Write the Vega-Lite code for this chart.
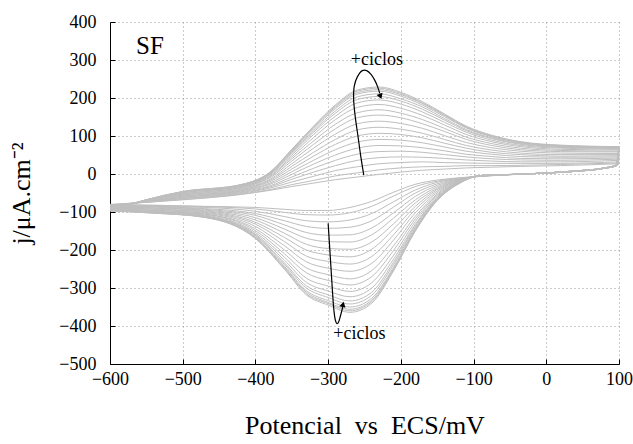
{
"$schema": "https://vega.github.io/schema/vega-lite/v6.json",
"width": 509, "height": 342,
"autosize": "none",
"padding": {"left": 110, "top": 22, "right": 14, "bottom": 80},
"config": {
 "view": {"stroke": null},
 "font": "Liberation Serif",
 "axis": {"domainColor": "#000", "domainWidth": 1, "tickColor": "#000", "tickSize": -5, "labelFontSize": 18, "labelColor": "#000", "labelFont": "Liberation Serif", "labelFlush": false, "labelOverlap": false, "gridColor": "#999", "gridDash": [1, 3], "gridOpacity": 1, "gridWidth": 1, "titleFont": "Liberation Serif", "titleFontWeight": "normal", "titleFontSize": 26, "titleColor": "#000"}
},
"encoding": {
 "x": {"field": "x", "type": "quantitative", "scale": {"domain": [-600, 100], "nice": false, "zero": false}, "axis": {"values": [-600, -500, -400, -300, -200, -100, 0, 100], "title": "Potencial\u00a0\u00a0vs\u00a0\u00a0ECS/mV", "labelPadding": 11, "titlePadding": 24}},
 "y": {"field": "y", "type": "quantitative", "scale": {"domain": [-500, 400], "nice": false, "zero": false}, "axis": {"values": [-500, -400, -300, -200, -100, 0, 100, 200, 300, 400], "title": "j/μA.cm⁻²", "labelPadding": 19, "titlePadding": 24}}
},
"layer": [
{
 "data": {"values": [
{"k":1,"x":-600,"y":-80},{"k":2,"x":-600,"y":-81},{"k":3,"x":-600,"y":-82},{"k":4,"x":-600,"y":-83},{"k":5,"x":-600,"y":-84},{"k":6,"x":-600,"y":-85},{"k":7,"x":-600,"y":-86},{"k":8,"x":-600,"y":-87},{"k":9,"x":-600,"y":-88},{"k":10,"x":-600,"y":-89},{"k":11,"x":-600,"y":-90},{"k":12,"x":-600,"y":-91},{"k":13,"x":-600,"y":-92},{"k":14,"x":-600,"y":-93},{"k":15,"x":-600,"y":-93},{"k":16,"x":-600,"y":-94},{"k":17,"x":-600,"y":-94},{"k":18,"x":-600,"y":-95},{"k":19,"x":-600,"y":-95},{"k":20,"x":-600,"y":-95},
{"k":1,"x":-500,"y":-68},{"k":2,"x":-500,"y":-67},{"k":3,"x":-500,"y":-65},{"k":4,"x":-500,"y":-64},{"k":5,"x":-500,"y":-62},{"k":6,"x":-500,"y":-61},{"k":7,"x":-500,"y":-59},{"k":8,"x":-500,"y":-58},{"k":9,"x":-500,"y":-56},{"k":10,"x":-500,"y":-55},{"k":11,"x":-500,"y":-53},{"k":12,"x":-500,"y":-52},{"k":13,"x":-500,"y":-50},{"k":14,"x":-500,"y":-49},{"k":15,"x":-500,"y":-48},{"k":16,"x":-500,"y":-48},{"k":17,"x":-500,"y":-47},{"k":18,"x":-500,"y":-47},{"k":19,"x":-500,"y":-46},{"k":20,"x":-500,"y":-46},
{"k":1,"x":-420,"y":-54},{"k":2,"x":-420,"y":-53},{"k":3,"x":-420,"y":-51},{"k":4,"x":-420,"y":-49},{"k":5,"x":-420,"y":-47},{"k":6,"x":-420,"y":-45},{"k":7,"x":-420,"y":-44},{"k":8,"x":-420,"y":-42},{"k":9,"x":-420,"y":-40},{"k":10,"x":-420,"y":-38},{"k":11,"x":-420,"y":-36},{"k":12,"x":-420,"y":-35},{"k":13,"x":-420,"y":-33},{"k":14,"x":-420,"y":-32},{"k":15,"x":-420,"y":-31},{"k":16,"x":-420,"y":-30},{"k":17,"x":-420,"y":-29},{"k":18,"x":-420,"y":-29},{"k":19,"x":-420,"y":-28},{"k":20,"x":-420,"y":-28},
{"k":1,"x":-380,"y":-43},{"k":2,"x":-380,"y":-41},{"k":3,"x":-380,"y":-37},{"k":4,"x":-380,"y":-34},{"k":5,"x":-380,"y":-31},{"k":6,"x":-380,"y":-27},{"k":7,"x":-380,"y":-24},{"k":8,"x":-380,"y":-20},{"k":9,"x":-380,"y":-17},{"k":10,"x":-380,"y":-14},{"k":11,"x":-380,"y":-10},{"k":12,"x":-380,"y":-7},{"k":13,"x":-380,"y":-5},{"k":14,"x":-380,"y":-2},{"k":15,"x":-380,"y":0},{"k":16,"x":-380,"y":1},{"k":17,"x":-380,"y":3},{"k":18,"x":-380,"y":4},{"k":19,"x":-380,"y":4},{"k":20,"x":-380,"y":5},
{"k":1,"x":-350,"y":-33},{"k":2,"x":-350,"y":-28},{"k":3,"x":-350,"y":-21},{"k":4,"x":-350,"y":-14},{"k":5,"x":-350,"y":-8},{"k":6,"x":-350,"y":-1},{"k":7,"x":-350,"y":6},{"k":8,"x":-350,"y":13},{"k":9,"x":-350,"y":20},{"k":10,"x":-350,"y":27},{"k":11,"x":-350,"y":34},{"k":12,"x":-350,"y":40},{"k":13,"x":-350,"y":45},{"k":14,"x":-350,"y":50},{"k":15,"x":-350,"y":54},{"k":16,"x":-350,"y":57},{"k":17,"x":-350,"y":60},{"k":18,"x":-350,"y":62},{"k":19,"x":-350,"y":64},{"k":20,"x":-350,"y":65},
{"k":1,"x":-320,"y":-24},{"k":2,"x":-320,"y":-17},{"k":3,"x":-320,"y":-6},{"k":4,"x":-320,"y":5},{"k":5,"x":-320,"y":15},{"k":6,"x":-320,"y":26},{"k":7,"x":-320,"y":36},{"k":8,"x":-320,"y":47},{"k":9,"x":-320,"y":57},{"k":10,"x":-320,"y":68},{"k":11,"x":-320,"y":78},{"k":12,"x":-320,"y":87},{"k":13,"x":-320,"y":96},{"k":14,"x":-320,"y":104},{"k":15,"x":-320,"y":110},{"k":16,"x":-320,"y":114},{"k":17,"x":-320,"y":119},{"k":18,"x":-320,"y":122},{"k":19,"x":-320,"y":124},{"k":20,"x":-320,"y":126},
{"k":1,"x":-290,"y":-15},{"k":2,"x":-290,"y":-5},{"k":3,"x":-290,"y":9},{"k":4,"x":-290,"y":22},{"k":5,"x":-290,"y":36},{"k":6,"x":-290,"y":50},{"k":7,"x":-290,"y":64},{"k":8,"x":-290,"y":78},{"k":9,"x":-290,"y":91},{"k":10,"x":-290,"y":105},{"k":11,"x":-290,"y":119},{"k":12,"x":-290,"y":131},{"k":13,"x":-290,"y":143},{"k":14,"x":-290,"y":152},{"k":15,"x":-290,"y":160},{"k":16,"x":-290,"y":166},{"k":17,"x":-290,"y":172},{"k":18,"x":-290,"y":176},{"k":19,"x":-290,"y":179},{"k":20,"x":-290,"y":182},
{"k":1,"x":-260,"y":-8},{"k":2,"x":-260,"y":3},{"k":3,"x":-260,"y":19},{"k":4,"x":-260,"y":36},{"k":5,"x":-260,"y":52},{"k":6,"x":-260,"y":68},{"k":7,"x":-260,"y":84},{"k":8,"x":-260,"y":100},{"k":9,"x":-260,"y":116},{"k":10,"x":-260,"y":132},{"k":11,"x":-260,"y":148},{"k":12,"x":-260,"y":161},{"k":13,"x":-260,"y":175},{"k":14,"x":-260,"y":187},{"k":15,"x":-260,"y":196},{"k":16,"x":-260,"y":203},{"k":17,"x":-260,"y":210},{"k":18,"x":-260,"y":214},{"k":19,"x":-260,"y":218},{"k":20,"x":-260,"y":221},
{"k":1,"x":-230,"y":-1},{"k":2,"x":-230,"y":11},{"k":3,"x":-230,"y":27},{"k":4,"x":-230,"y":43},{"k":5,"x":-230,"y":59},{"k":6,"x":-230,"y":75},{"k":7,"x":-230,"y":91},{"k":8,"x":-230,"y":107},{"k":9,"x":-230,"y":123},{"k":10,"x":-230,"y":139},{"k":11,"x":-230,"y":155},{"k":12,"x":-230,"y":169},{"k":13,"x":-230,"y":183},{"k":14,"x":-230,"y":195},{"k":15,"x":-230,"y":204},{"k":16,"x":-230,"y":211},{"k":17,"x":-230,"y":218},{"k":18,"x":-230,"y":222},{"k":19,"x":-230,"y":226},{"k":20,"x":-230,"y":229},
{"k":1,"x":-200,"y":5},{"k":2,"x":-200,"y":16},{"k":3,"x":-200,"y":30},{"k":4,"x":-200,"y":45},{"k":5,"x":-200,"y":60},{"k":6,"x":-200,"y":74},{"k":7,"x":-200,"y":89},{"k":8,"x":-200,"y":104},{"k":9,"x":-200,"y":118},{"k":10,"x":-200,"y":133},{"k":11,"x":-200,"y":148},{"k":12,"x":-200,"y":160},{"k":13,"x":-200,"y":173},{"k":14,"x":-200,"y":184},{"k":15,"x":-200,"y":192},{"k":16,"x":-200,"y":198},{"k":17,"x":-200,"y":205},{"k":18,"x":-200,"y":209},{"k":19,"x":-200,"y":212},{"k":20,"x":-200,"y":215},
{"k":1,"x":-170,"y":10},{"k":2,"x":-170,"y":19},{"k":3,"x":-170,"y":32},{"k":4,"x":-170,"y":44},{"k":5,"x":-170,"y":57},{"k":6,"x":-170,"y":69},{"k":7,"x":-170,"y":82},{"k":8,"x":-170,"y":95},{"k":9,"x":-170,"y":107},{"k":10,"x":-170,"y":120},{"k":11,"x":-170,"y":132},{"k":12,"x":-170,"y":143},{"k":13,"x":-170,"y":154},{"k":14,"x":-170,"y":163},{"k":15,"x":-170,"y":170},{"k":16,"x":-170,"y":176},{"k":17,"x":-170,"y":181},{"k":18,"x":-170,"y":185},{"k":19,"x":-170,"y":187},{"k":20,"x":-170,"y":190},
{"k":1,"x":-140,"y":13},{"k":2,"x":-140,"y":20},{"k":3,"x":-140,"y":30},{"k":4,"x":-140,"y":41},{"k":5,"x":-140,"y":51},{"k":6,"x":-140,"y":61},{"k":7,"x":-140,"y":71},{"k":8,"x":-140,"y":81},{"k":9,"x":-140,"y":91},{"k":10,"x":-140,"y":101},{"k":11,"x":-140,"y":112},{"k":12,"x":-140,"y":120},{"k":13,"x":-140,"y":129},{"k":14,"x":-140,"y":136},{"k":15,"x":-140,"y":142},{"k":16,"x":-140,"y":146},{"k":17,"x":-140,"y":151},{"k":18,"x":-140,"y":154},{"k":19,"x":-140,"y":156},{"k":20,"x":-140,"y":158},
{"k":1,"x":-110,"y":16},{"k":2,"x":-110,"y":22},{"k":3,"x":-110,"y":29},{"k":4,"x":-110,"y":37},{"k":5,"x":-110,"y":45},{"k":6,"x":-110,"y":52},{"k":7,"x":-110,"y":60},{"k":8,"x":-110,"y":68},{"k":9,"x":-110,"y":75},{"k":10,"x":-110,"y":83},{"k":11,"x":-110,"y":91},{"k":12,"x":-110,"y":97},{"k":13,"x":-110,"y":104},{"k":14,"x":-110,"y":110},{"k":15,"x":-110,"y":114},{"k":16,"x":-110,"y":117},{"k":17,"x":-110,"y":121},{"k":18,"x":-110,"y":123},{"k":19,"x":-110,"y":124},{"k":20,"x":-110,"y":126},
{"k":1,"x":-75,"y":18},{"k":2,"x":-75,"y":22},{"k":3,"x":-75,"y":28},{"k":4,"x":-75,"y":34},{"k":5,"x":-75,"y":40},{"k":6,"x":-75,"y":46},{"k":7,"x":-75,"y":52},{"k":8,"x":-75,"y":57},{"k":9,"x":-75,"y":63},{"k":10,"x":-75,"y":69},{"k":11,"x":-75,"y":75},{"k":12,"x":-75,"y":80},{"k":13,"x":-75,"y":85},{"k":14,"x":-75,"y":89},{"k":15,"x":-75,"y":93},{"k":16,"x":-75,"y":95},{"k":17,"x":-75,"y":98},{"k":18,"x":-75,"y":99},{"k":19,"x":-75,"y":101},{"k":20,"x":-75,"y":102},
{"k":1,"x":-35,"y":20},{"k":2,"x":-35,"y":23},{"k":3,"x":-35,"y":28},{"k":4,"x":-35,"y":32},{"k":5,"x":-35,"y":37},{"k":6,"x":-35,"y":41},{"k":7,"x":-35,"y":46},{"k":8,"x":-35,"y":51},{"k":9,"x":-35,"y":55},{"k":10,"x":-35,"y":60},{"k":11,"x":-35,"y":64},{"k":12,"x":-35,"y":68},{"k":13,"x":-35,"y":72},{"k":14,"x":-35,"y":75},{"k":15,"x":-35,"y":78},{"k":16,"x":-35,"y":80},{"k":17,"x":-35,"y":82},{"k":18,"x":-35,"y":83},{"k":19,"x":-35,"y":84},{"k":20,"x":-35,"y":85},
{"k":1,"x":20,"y":22},{"k":2,"x":20,"y":25},{"k":3,"x":20,"y":28},{"k":4,"x":20,"y":32},{"k":5,"x":20,"y":36},{"k":6,"x":20,"y":40},{"k":7,"x":20,"y":44},{"k":8,"x":20,"y":47},{"k":9,"x":20,"y":51},{"k":10,"x":20,"y":55},{"k":11,"x":20,"y":59},{"k":12,"x":20,"y":62},{"k":13,"x":20,"y":65},{"k":14,"x":20,"y":68},{"k":15,"x":20,"y":70},{"k":16,"x":20,"y":72},{"k":17,"x":20,"y":73},{"k":18,"x":20,"y":74},{"k":19,"x":20,"y":75},{"k":20,"x":20,"y":76},
{"k":1,"x":100,"y":27},{"k":2,"x":100,"y":29},{"k":3,"x":100,"y":32},{"k":4,"x":100,"y":36},{"k":5,"x":100,"y":39},{"k":6,"x":100,"y":42},{"k":7,"x":100,"y":45},{"k":8,"x":100,"y":48},{"k":9,"x":100,"y":51},{"k":10,"x":100,"y":54},{"k":11,"x":100,"y":58},{"k":12,"x":100,"y":60},{"k":13,"x":100,"y":63},{"k":14,"x":100,"y":65},{"k":15,"x":100,"y":67},{"k":16,"x":100,"y":68},{"k":17,"x":100,"y":70},{"k":18,"x":100,"y":71},{"k":19,"x":100,"y":71},{"k":20,"x":100,"y":72},
{"k":101,"x":100,"y":27},{"k":102,"x":100,"y":29},{"k":103,"x":100,"y":32},{"k":104,"x":100,"y":36},{"k":105,"x":100,"y":39},{"k":106,"x":100,"y":42},{"k":107,"x":100,"y":45},{"k":108,"x":100,"y":48},{"k":109,"x":100,"y":51},{"k":110,"x":100,"y":54},{"k":111,"x":100,"y":58},{"k":112,"x":100,"y":60},{"k":113,"x":100,"y":63},{"k":114,"x":100,"y":65},{"k":115,"x":100,"y":67},{"k":116,"x":100,"y":68},{"k":117,"x":100,"y":70},{"k":118,"x":100,"y":71},{"k":119,"x":100,"y":71},{"k":120,"x":100,"y":72},
{"k":101,"x":96,"y":21},{"k":102,"x":96,"y":21},{"k":103,"x":96,"y":21},{"k":104,"x":96,"y":22},{"k":105,"x":96,"y":22},{"k":106,"x":96,"y":22},{"k":107,"x":96,"y":22},{"k":108,"x":96,"y":22},{"k":109,"x":96,"y":23},{"k":110,"x":96,"y":23},{"k":111,"x":96,"y":23},{"k":112,"x":96,"y":23},{"k":113,"x":96,"y":23},{"k":114,"x":96,"y":24},{"k":115,"x":96,"y":24},{"k":116,"x":96,"y":24},{"k":117,"x":96,"y":24},{"k":118,"x":96,"y":24},{"k":119,"x":96,"y":24},{"k":120,"x":96,"y":24},
{"k":101,"x":80,"y":15},{"k":102,"x":80,"y":15},{"k":103,"x":80,"y":15},{"k":104,"x":80,"y":15},{"k":105,"x":80,"y":15},{"k":106,"x":80,"y":15},{"k":107,"x":80,"y":15},{"k":108,"x":80,"y":15},{"k":109,"x":80,"y":15},{"k":110,"x":80,"y":15},{"k":111,"x":80,"y":16},{"k":112,"x":80,"y":16},{"k":113,"x":80,"y":16},{"k":114,"x":80,"y":16},{"k":115,"x":80,"y":16},{"k":116,"x":80,"y":16},{"k":117,"x":80,"y":16},{"k":118,"x":80,"y":16},{"k":119,"x":80,"y":16},{"k":120,"x":80,"y":16},
{"k":101,"x":40,"y":7},{"k":102,"x":40,"y":7},{"k":103,"x":40,"y":7},{"k":104,"x":40,"y":7},{"k":105,"x":40,"y":7},{"k":106,"x":40,"y":7},{"k":107,"x":40,"y":7},{"k":108,"x":40,"y":7},{"k":109,"x":40,"y":7},{"k":110,"x":40,"y":7},{"k":111,"x":40,"y":8},{"k":112,"x":40,"y":8},{"k":113,"x":40,"y":8},{"k":114,"x":40,"y":8},{"k":115,"x":40,"y":8},{"k":116,"x":40,"y":8},{"k":117,"x":40,"y":8},{"k":118,"x":40,"y":8},{"k":119,"x":40,"y":8},{"k":120,"x":40,"y":8},
{"k":101,"x":-30,"y":0},{"k":102,"x":-30,"y":0},{"k":103,"x":-30,"y":0},{"k":104,"x":-30,"y":0},{"k":105,"x":-30,"y":0},{"k":106,"x":-30,"y":0},{"k":107,"x":-30,"y":0},{"k":108,"x":-30,"y":0},{"k":109,"x":-30,"y":0},{"k":110,"x":-30,"y":0},{"k":111,"x":-30,"y":0},{"k":112,"x":-30,"y":0},{"k":113,"x":-30,"y":0},{"k":114,"x":-30,"y":0},{"k":115,"x":-30,"y":0},{"k":116,"x":-30,"y":0},{"k":117,"x":-30,"y":0},{"k":118,"x":-30,"y":0},{"k":119,"x":-30,"y":0},{"k":120,"x":-30,"y":0},
{"k":101,"x":-90,"y":-6},{"k":102,"x":-90,"y":-6},{"k":103,"x":-90,"y":-6},{"k":104,"x":-90,"y":-6},{"k":105,"x":-90,"y":-5},{"k":106,"x":-90,"y":-5},{"k":107,"x":-90,"y":-5},{"k":108,"x":-90,"y":-5},{"k":109,"x":-90,"y":-5},{"k":110,"x":-90,"y":-5},{"k":111,"x":-90,"y":-5},{"k":112,"x":-90,"y":-5},{"k":113,"x":-90,"y":-4},{"k":114,"x":-90,"y":-4},{"k":115,"x":-90,"y":-4},{"k":116,"x":-90,"y":-4},{"k":117,"x":-90,"y":-4},{"k":118,"x":-90,"y":-4},{"k":119,"x":-90,"y":-4},{"k":120,"x":-90,"y":-4},
{"k":101,"x":-120,"y":-10},{"k":102,"x":-120,"y":-11},{"k":103,"x":-120,"y":-12},{"k":104,"x":-120,"y":-13},{"k":105,"x":-120,"y":-14},{"k":106,"x":-120,"y":-15},{"k":107,"x":-120,"y":-16},{"k":108,"x":-120,"y":-17},{"k":109,"x":-120,"y":-18},{"k":110,"x":-120,"y":-19},{"k":111,"x":-120,"y":-20},{"k":112,"x":-120,"y":-21},{"k":113,"x":-120,"y":-22},{"k":114,"x":-120,"y":-23},{"k":115,"x":-120,"y":-23},{"k":116,"x":-120,"y":-24},{"k":117,"x":-120,"y":-24},{"k":118,"x":-120,"y":-25},{"k":119,"x":-120,"y":-25},{"k":120,"x":-120,"y":-25},
{"k":101,"x":-150,"y":-16},{"k":102,"x":-150,"y":-19},{"k":103,"x":-150,"y":-22},{"k":104,"x":-150,"y":-26},{"k":105,"x":-150,"y":-30},{"k":106,"x":-150,"y":-34},{"k":107,"x":-150,"y":-38},{"k":108,"x":-150,"y":-41},{"k":109,"x":-150,"y":-45},{"k":110,"x":-150,"y":-49},{"k":111,"x":-150,"y":-53},{"k":112,"x":-150,"y":-56},{"k":113,"x":-150,"y":-59},{"k":114,"x":-150,"y":-62},{"k":115,"x":-150,"y":-64},{"k":116,"x":-150,"y":-66},{"k":117,"x":-150,"y":-67},{"k":118,"x":-150,"y":-68},{"k":119,"x":-150,"y":-69},{"k":120,"x":-150,"y":-70},
{"k":101,"x":-180,"y":-27},{"k":102,"x":-180,"y":-33},{"k":103,"x":-180,"y":-42},{"k":104,"x":-180,"y":-50},{"k":105,"x":-180,"y":-59},{"k":106,"x":-180,"y":-68},{"k":107,"x":-180,"y":-76},{"k":108,"x":-180,"y":-85},{"k":109,"x":-180,"y":-93},{"k":110,"x":-180,"y":-102},{"k":111,"x":-180,"y":-111},{"k":112,"x":-180,"y":-118},{"k":113,"x":-180,"y":-125},{"k":114,"x":-180,"y":-132},{"k":115,"x":-180,"y":-136},{"k":116,"x":-180,"y":-140},{"k":117,"x":-180,"y":-144},{"k":118,"x":-180,"y":-146},{"k":119,"x":-180,"y":-148},{"k":120,"x":-180,"y":-150},
{"k":101,"x":-210,"y":-48},{"k":102,"x":-210,"y":-58},{"k":103,"x":-210,"y":-73},{"k":104,"x":-210,"y":-87},{"k":105,"x":-210,"y":-102},{"k":106,"x":-210,"y":-116},{"k":107,"x":-210,"y":-131},{"k":108,"x":-210,"y":-145},{"k":109,"x":-210,"y":-160},{"k":110,"x":-210,"y":-174},{"k":111,"x":-210,"y":-189},{"k":112,"x":-210,"y":-201},{"k":113,"x":-210,"y":-214},{"k":114,"x":-210,"y":-224},{"k":115,"x":-210,"y":-232},{"k":116,"x":-210,"y":-238},{"k":117,"x":-210,"y":-245},{"k":118,"x":-210,"y":-249},{"k":119,"x":-210,"y":-252},{"k":120,"x":-210,"y":-255},
{"k":101,"x":-240,"y":-72},{"k":102,"x":-240,"y":-85},{"k":103,"x":-240,"y":-104},{"k":104,"x":-240,"y":-123},{"k":105,"x":-240,"y":-142},{"k":106,"x":-240,"y":-160},{"k":107,"x":-240,"y":-179},{"k":108,"x":-240,"y":-198},{"k":109,"x":-240,"y":-217},{"k":110,"x":-240,"y":-235},{"k":111,"x":-240,"y":-254},{"k":112,"x":-240,"y":-270},{"k":113,"x":-240,"y":-286},{"k":114,"x":-240,"y":-300},{"k":115,"x":-240,"y":-311},{"k":116,"x":-240,"y":-319},{"k":117,"x":-240,"y":-327},{"k":118,"x":-240,"y":-332},{"k":119,"x":-240,"y":-336},{"k":120,"x":-240,"y":-340},
{"k":101,"x":-270,"y":-88},{"k":102,"x":-270,"y":-102},{"k":103,"x":-270,"y":-121},{"k":104,"x":-270,"y":-140},{"k":105,"x":-270,"y":-160},{"k":106,"x":-270,"y":-179},{"k":107,"x":-270,"y":-198},{"k":108,"x":-270,"y":-218},{"k":109,"x":-270,"y":-237},{"k":110,"x":-270,"y":-256},{"k":111,"x":-270,"y":-276},{"k":112,"x":-270,"y":-292},{"k":113,"x":-270,"y":-309},{"k":114,"x":-270,"y":-323},{"k":115,"x":-270,"y":-334},{"k":116,"x":-270,"y":-342},{"k":117,"x":-270,"y":-350},{"k":118,"x":-270,"y":-356},{"k":119,"x":-270,"y":-360},{"k":120,"x":-270,"y":-364},
{"k":101,"x":-300,"y":-96},{"k":102,"x":-300,"y":-108},{"k":103,"x":-300,"y":-126},{"k":104,"x":-300,"y":-143},{"k":105,"x":-300,"y":-161},{"k":106,"x":-300,"y":-178},{"k":107,"x":-300,"y":-196},{"k":108,"x":-300,"y":-213},{"k":109,"x":-300,"y":-230},{"k":110,"x":-300,"y":-248},{"k":111,"x":-300,"y":-265},{"k":112,"x":-300,"y":-280},{"k":113,"x":-300,"y":-295},{"k":114,"x":-300,"y":-308},{"k":115,"x":-300,"y":-318},{"k":116,"x":-300,"y":-325},{"k":117,"x":-300,"y":-333},{"k":118,"x":-300,"y":-338},{"k":119,"x":-300,"y":-341},{"k":120,"x":-300,"y":-345},
{"k":101,"x":-330,"y":-96},{"k":102,"x":-330,"y":-107},{"k":103,"x":-330,"y":-123},{"k":104,"x":-330,"y":-138},{"k":105,"x":-330,"y":-154},{"k":106,"x":-330,"y":-169},{"k":107,"x":-330,"y":-185},{"k":108,"x":-330,"y":-200},{"k":109,"x":-330,"y":-216},{"k":110,"x":-330,"y":-231},{"k":111,"x":-330,"y":-247},{"k":112,"x":-330,"y":-260},{"k":113,"x":-330,"y":-274},{"k":114,"x":-330,"y":-285},{"k":115,"x":-330,"y":-294},{"k":116,"x":-330,"y":-300},{"k":117,"x":-330,"y":-307},{"k":118,"x":-330,"y":-311},{"k":119,"x":-330,"y":-315},{"k":120,"x":-330,"y":-318},
{"k":101,"x":-360,"y":-93},{"k":102,"x":-360,"y":-101},{"k":103,"x":-360,"y":-112},{"k":104,"x":-360,"y":-123},{"k":105,"x":-360,"y":-134},{"k":106,"x":-360,"y":-145},{"k":107,"x":-360,"y":-156},{"k":108,"x":-360,"y":-167},{"k":109,"x":-360,"y":-178},{"k":110,"x":-360,"y":-189},{"k":111,"x":-360,"y":-200},{"k":112,"x":-360,"y":-210},{"k":113,"x":-360,"y":-219},{"k":114,"x":-360,"y":-227},{"k":115,"x":-360,"y":-234},{"k":116,"x":-360,"y":-238},{"k":117,"x":-360,"y":-243},{"k":118,"x":-360,"y":-246},{"k":119,"x":-360,"y":-249},{"k":120,"x":-360,"y":-251},
{"k":101,"x":-400,"y":-88},{"k":102,"x":-400,"y":-92},{"k":103,"x":-400,"y":-98},{"k":104,"x":-400,"y":-104},{"k":105,"x":-400,"y":-109},{"k":106,"x":-400,"y":-115},{"k":107,"x":-400,"y":-121},{"k":108,"x":-400,"y":-127},{"k":109,"x":-400,"y":-132},{"k":110,"x":-400,"y":-138},{"k":111,"x":-400,"y":-144},{"k":112,"x":-400,"y":-149},{"k":113,"x":-400,"y":-154},{"k":114,"x":-400,"y":-158},{"k":115,"x":-400,"y":-161},{"k":116,"x":-400,"y":-163},{"k":117,"x":-400,"y":-166},{"k":118,"x":-400,"y":-168},{"k":119,"x":-400,"y":-169},{"k":120,"x":-400,"y":-170},
{"k":101,"x":-470,"y":-85},{"k":102,"x":-470,"y":-86},{"k":103,"x":-470,"y":-88},{"k":104,"x":-470,"y":-91},{"k":105,"x":-470,"y":-93},{"k":106,"x":-470,"y":-95},{"k":107,"x":-470,"y":-97},{"k":108,"x":-470,"y":-99},{"k":109,"x":-470,"y":-101},{"k":110,"x":-470,"y":-103},{"k":111,"x":-470,"y":-105},{"k":112,"x":-470,"y":-106},{"k":113,"x":-470,"y":-108},{"k":114,"x":-470,"y":-110},{"k":115,"x":-470,"y":-111},{"k":116,"x":-470,"y":-112},{"k":117,"x":-470,"y":-113},{"k":118,"x":-470,"y":-113},{"k":119,"x":-470,"y":-114},{"k":120,"x":-470,"y":-114},
{"k":101,"x":-540,"y":-82},{"k":102,"x":-540,"y":-83},{"k":103,"x":-540,"y":-85},{"k":104,"x":-540,"y":-86},{"k":105,"x":-540,"y":-87},{"k":106,"x":-540,"y":-89},{"k":107,"x":-540,"y":-90},{"k":108,"x":-540,"y":-92},{"k":109,"x":-540,"y":-93},{"k":110,"x":-540,"y":-95},{"k":111,"x":-540,"y":-96},{"k":112,"x":-540,"y":-98},{"k":113,"x":-540,"y":-99},{"k":114,"x":-540,"y":-100},{"k":115,"x":-540,"y":-101},{"k":116,"x":-540,"y":-101},{"k":117,"x":-540,"y":-102},{"k":118,"x":-540,"y":-102},{"k":119,"x":-540,"y":-103},{"k":120,"x":-540,"y":-103},
{"k":101,"x":-600,"y":-80},{"k":102,"x":-600,"y":-81},{"k":103,"x":-600,"y":-82},{"k":104,"x":-600,"y":-83},{"k":105,"x":-600,"y":-84},{"k":106,"x":-600,"y":-86},{"k":107,"x":-600,"y":-87},{"k":108,"x":-600,"y":-88},{"k":109,"x":-600,"y":-89},{"k":110,"x":-600,"y":-90},{"k":111,"x":-600,"y":-92},{"k":112,"x":-600,"y":-93},{"k":113,"x":-600,"y":-94},{"k":114,"x":-600,"y":-94},{"k":115,"x":-600,"y":-95},{"k":116,"x":-600,"y":-96},{"k":117,"x":-600,"y":-96},{"k":118,"x":-600,"y":-96},{"k":119,"x":-600,"y":-97},{"k":120,"x":-600,"y":-97}
 ]},
 "mark": {"type": "line", "interpolate": "monotone", "color": "#bebebe", "strokeWidth": 1},
 "encoding": {"detail": {"field": "k", "type": "nominal"}}
},
{
 "data": {"values": [
{"g":"u","i":0,"x":-251,"y":-3},{"g":"u","i":1,"x":-255,"y":45},{"g":"u","i":2,"x":-259,"y":100},{"g":"u","i":3,"x":-263,"y":155},{"g":"u","i":4,"x":-265,"y":200},{"g":"u","i":5,"x":-264,"y":232},{"g":"u","i":6,"x":-260,"y":255},{"g":"u","i":7,"x":-253,"y":272},{"g":"u","i":8,"x":-247,"y":272},{"g":"u","i":9,"x":-241,"y":262},{"g":"u","i":10,"x":-236,"y":247},{"g":"u","i":11,"x":-232,"y":230},{"g":"u","i":12,"x":-229,"y":212},
{"g":"l","i":0,"x":-300,"y":-130},{"g":"l","i":1,"x":-298,"y":-190},{"g":"l","i":2,"x":-296,"y":-250},{"g":"l","i":3,"x":-294,"y":-310},{"g":"l","i":4,"x":-292,"y":-360},{"g":"l","i":5,"x":-290,"y":-385},{"g":"l","i":6,"x":-288,"y":-394},{"g":"l","i":7,"x":-286,"y":-391},{"g":"l","i":8,"x":-283,"y":-373},{"g":"l","i":9,"x":-280,"y":-350}
 ]},
 "mark": {"type": "line", "interpolate": "catmull-rom", "color": "#000", "strokeWidth": 1.2},
 "encoding": {"detail": {"field": "g", "type": "nominal"}, "order": {"field": "i", "type": "quantitative"}}
},
{
 "data": {"values": [{"x": -228, "y": 204, "a": 160}, {"x": -279.5, "y": -343, "a": 15}]},
 "mark": {"type": "point", "shape": "triangle-up", "filled": true, "color": "#000", "size": 40, "opacity": 1},
 "encoding": {"angle": {"field": "a", "type": "quantitative", "scale": null}}
},
{
 "data": {"values": [{"t": "SF", "x": -545, "y": 337, "s": 25}, {"t": "+ciclos", "x": -233, "y": 300, "s": 18}, {"t": "+ciclos", "x": -257, "y": -421, "s": 18}]},
 "mark": {"type": "text", "font": "Liberation Serif", "color": "#000", "align": "center", "baseline": "middle"},
 "encoding": {"text": {"field": "t"}, "size": {"field": "s", "type": "quantitative", "scale": null}}
}
]
}
